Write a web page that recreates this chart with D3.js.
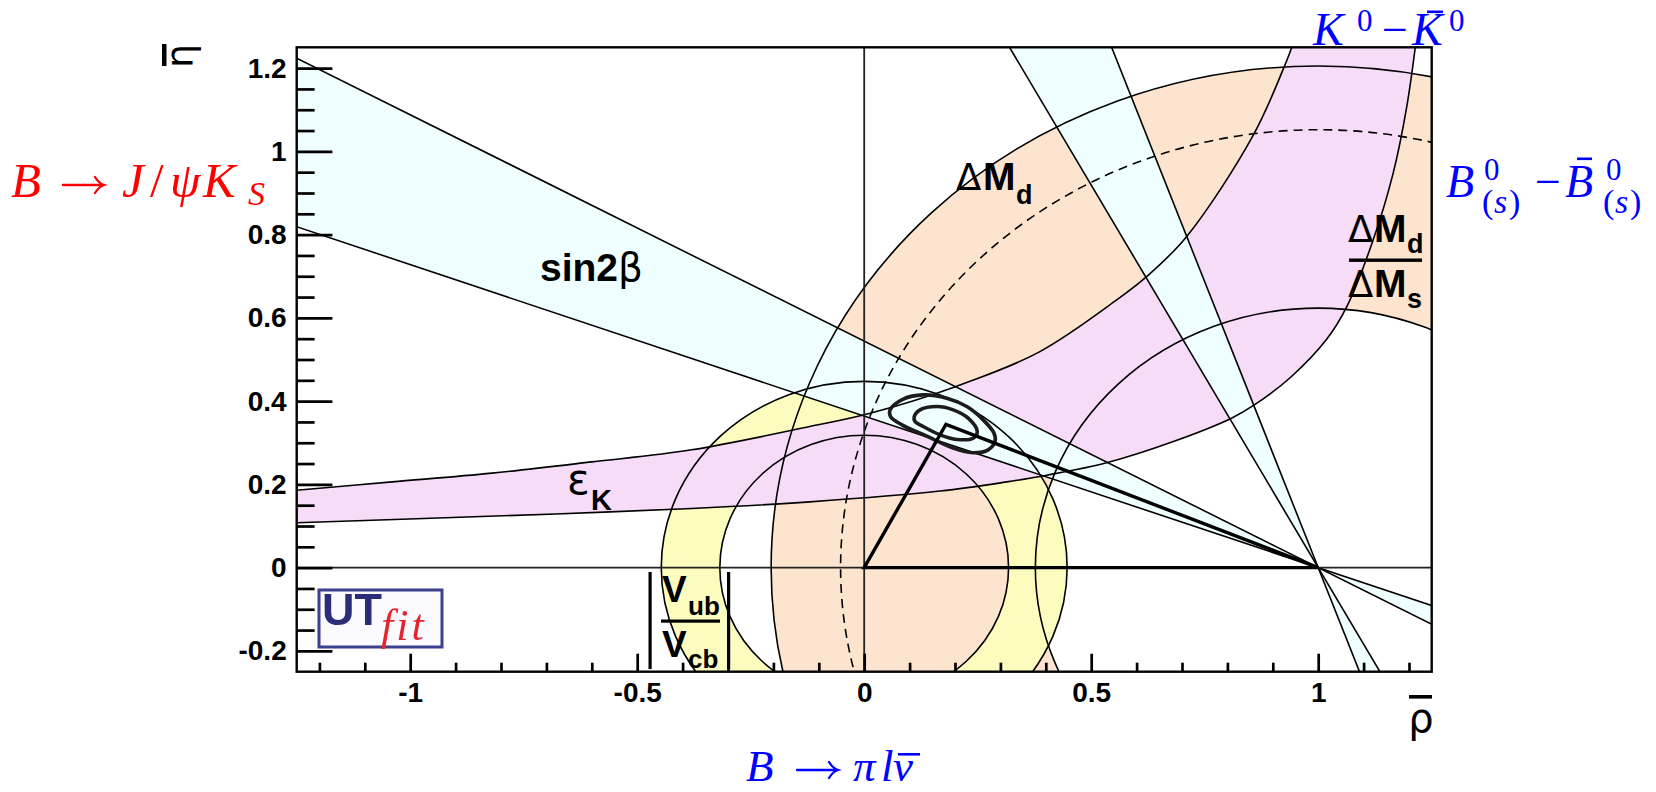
<!DOCTYPE html>
<html>
<head>
<meta charset="utf-8">
<script src="https://cdn.jsdelivr.net/npm/d3@7"></script>
<style>
  html, body { margin: 0; padding: 0; background: #fff; }
  svg { display: block; }
</style>
</head>
<body>
<svg id="chart" width="1656" height="792"></svg>
<script>
// ---- axis ranges and ticks ----
const rhoDomain = [-1.25, 1.25];
const etaDomain = [-0.25, 1.25];
const xMajorTicks = [-1, -0.5, 0, 0.5, 1];
const xTickLabels = ["-1", "-0.5", "0", "0.5", "1"];
const xMinorTicks = [-1.2, -1.1, -0.9, -0.8, -0.7, -0.6, -0.4, -0.3, -0.2, -0.1,
                     0.1, 0.2, 0.3, 0.4, 0.6, 0.7, 0.8, 0.9, 1.1, 1.2];
const yMajorTicks = [-0.2, 0, 0.2, 0.4, 0.6, 0.8, 1, 1.2];
const yTickLabels = ["-0.2", "0", "0.2", "0.4", "0.6", "0.8", "1", "1.2"];
const yMinorTicks = [-0.15, -0.1, -0.05, 0.05, 0.1, 0.15, 0.25, 0.3, 0.35, 0.45, 0.5, 0.55,
                     0.65, 0.7, 0.75, 0.85, 0.9, 0.95, 1.05, 1.1, 1.15];

// ---- constraints in the (rho-bar, eta-bar) plane ----
// sin2beta: tan(beta) of the two band edges, lines through (1,0); the steep band is the second solution
const sin2betaTanBeta = [0.364, 0.544];
// |Vub/Vcb|: ring centred on (0,0)
const vubCentre = [0, 0];
const vubRadii = [0.318, 0.447];
// Delta M_d: ring centred on (1,0) plus its central value (dashed)
const dmdCentre = [1, 0];
const dmdRadii = [0.623, 1.205];
const dmdCentral = 1.052;
// epsilon_K band edges
const epsKUpper = [[-1.25, 0.186], [-1.04, 0.206], [-0.82, 0.227], [-0.60, 0.254], [-0.38, 0.283],
                   [-0.12, 0.339], [0.013, 0.371], [0.204, 0.436], [0.387, 0.519], [0.556, 0.643],
                   [0.622, 0.699], [0.71, 0.795], [0.857, 1.039], [0.931, 1.219], [0.945, 1.26]];
const epsKLower = [[-1.25, 0.108], [-0.97, 0.118], [-0.68, 0.129], [-0.38, 0.142], [-0.12, 0.158],
                   [0.167, 0.184], [0.314, 0.206], [0.402, 0.222], [0.534, 0.252], [0.681, 0.303],
                   [0.809, 0.359], [0.861, 0.392], [0.94, 0.458], [1.019, 0.549], [1.063, 0.627],
                   [1.121, 0.787], [1.165, 0.947], [1.195, 1.107], [1.215, 1.26]];
// fit result: apex and the two probability contours
const apex = [0.18, 0.344];
const contourInner = [[0.110, 0.362], [0.123, 0.379], [0.160, 0.387], [0.196, 0.379], [0.229, 0.359],
                      [0.249, 0.327], [0.240, 0.311], [0.204, 0.308], [0.167, 0.319], [0.130, 0.339],
                      [0.112, 0.351]];
const contourOuter = [[0.057, 0.379], [0.086, 0.405], [0.130, 0.415], [0.182, 0.407], [0.226, 0.387],
                      [0.262, 0.355], [0.286, 0.323], [0.288, 0.303], [0.273, 0.283], [0.240, 0.276],
                      [0.196, 0.287], [0.138, 0.316], [0.083, 0.343], [0.058, 0.363]];

// ---- colours ----
const colDmd = "#fde4cf", colVub = "#fdfcbf", colEps = "#f6dcf7", colBeta = "#efffff";

const svg = d3.select("#chart");
const x = d3.scaleLinear().domain(rhoDomain).range([296.7, 1431.7]);
const y = d3.scaleLinear().domain(etaDomain).range([671.7, 47.3]);
const kx = x(1) - x(0), ky = y(0) - y(1);

svg.append("rect").attr("width", 1656).attr("height", 792).attr("fill", "#fff");

const defs = svg.append("defs");
defs.append("clipPath").attr("id", "plotClip").append("rect")
  .attr("x", x(rhoDomain[0])).attr("y", y(etaDomain[1]))
  .attr("width", x(rhoDomain[1]) - x(rhoDomain[0]))
  .attr("height", y(etaDomain[0]) - y(etaDomain[1]));
defs.append("filter").attr("id", "soft").append("feGaussianBlur").attr("stdDeviation", 0.6);

const plot = svg.append("g").attr("clip-path", "url(#plotClip)");

const lin = d3.line().x(d => x(d[0])).y(d => y(d[1]));
const smooth = d3.line().x(d => x(d[0])).y(d => y(d[1])).curve(d3.curveCatmullRom);
const closedSmooth = d3.line().x(d => x(d[0])).y(d => y(d[1])).curve(d3.curveCatmullRomClosed);

function ellipse(c, r) {
  const cx = x(c[0]), cy = y(c[1]), rx = r * kx, ry = r * ky;
  return `M${cx + rx},${cy}A${rx},${ry} 0 1 0 ${cx - rx},${cy}A${rx},${ry} 0 1 0 ${cx + rx},${cy}Z`;
}
function ring(c, radii) { return ellipse(c, radii[0]) + ellipse(c, radii[1]); }

// straight edges of the sin2beta bands, extended past the frame
function shallowEdge(t) { return [[-1.7, t * 2.7], [1.7, -t * 0.7]]; }
function steepEdge(t) { const s = 1 / t; return [[1 - 1.7 / s, 1.7], [1 + 0.7 / s, -0.7]]; }

// ---- filled regions ----
plot.append("path").attr("d", ring(dmdCentre, dmdRadii)).attr("fill", colDmd).attr("fill-rule", "evenodd");
plot.append("path").attr("d", ring(vubCentre, vubRadii)).attr("fill", colVub).attr("fill-rule", "evenodd");

const epsPath = smooth(epsKUpper) + "L" + smooth(epsKLower.slice().reverse()).slice(1) + "Z";
plot.append("path").attr("d", epsPath).attr("fill", colEps);

const [tLo, tHi] = sin2betaTanBeta;
const sLo = shallowEdge(tLo), sHi = shallowEdge(tHi);
const qLo = steepEdge(tLo), qHi = steepEdge(tHi);
[
  [sLo[0], sHi[0], dmdCentre], [sLo[1], sHi[1], dmdCentre],
  [qLo[0], qHi[0], dmdCentre], [qLo[1], qHi[1], dmdCentre]
].forEach(tri => plot.append("path").attr("d", lin(tri) + "Z").attr("fill", colBeta));

// ---- boundary lines ----
const edges = plot.append("g").attr("fill", "none").attr("stroke", "#000").attr("stroke-width", 1.6);
dmdRadii.forEach(r => edges.append("path").attr("d", ellipse(dmdCentre, r)));
edges.append("path").attr("d", ellipse(dmdCentre, dmdCentral)).attr("stroke-dasharray", "9,6");
vubRadii.forEach(r => edges.append("path").attr("d", ellipse(vubCentre, r)));
edges.append("path").attr("d", smooth(epsKUpper));
edges.append("path").attr("d", smooth(epsKLower));
[sLo, sHi, qLo, qHi].forEach(l => edges.append("path").attr("d", lin(l)));

// reference axes through the origin
plot.append("line").attr("x1", x(0)).attr("x2", x(0)).attr("y1", y(etaDomain[0])).attr("y2", y(etaDomain[1]))
  .attr("stroke", "#222").attr("stroke-width", 1.8);
plot.append("line").attr("x1", x(rhoDomain[0])).attr("x2", x(rhoDomain[1])).attr("y1", y(0)).attr("y2", y(0))
  .attr("stroke", "#222").attr("stroke-width", 1.8);

// fit contours and the unitarity triangle
plot.append("path").attr("d", closedSmooth(contourOuter)).attr("fill", "none").attr("stroke", "#1c1c1c").attr("stroke-width", 3.6);
plot.append("path").attr("d", closedSmooth(contourInner)).attr("fill", "none").attr("stroke", "#1c1c1c").attr("stroke-width", 3.6);
plot.append("path").attr("d", lin([[0, 0], apex, dmdCentre]) + "Z").attr("fill", "none")
  .attr("stroke", "#000").attr("stroke-width", 3.4).attr("stroke-linejoin", "miter");

// ---- frame and axes ----
const tickFont = "'Liberation Sans', Arial, Helvetica, sans-serif";
function styleAxis(g) {
  g.attr("font-family", tickFont).attr("font-size", 28).attr("font-weight", "bold");
  g.select(".domain").remove();
  g.selectAll(".tick line").attr("stroke", "#000").attr("stroke-width", 2.7);
  g.selectAll(".tick text").attr("fill", "#000");
}
svg.append("g").attr("transform", `translate(${x(rhoDomain[0])},0)`)
  .call(d3.axisLeft(y).tickValues(yMinorTicks).tickFormat("").tickSize(-17.9).tickSizeOuter(0)).call(styleAxis);
svg.append("g").attr("transform", `translate(${x(rhoDomain[0])},0)`)
  .call(d3.axisLeft(y).tickValues(yMajorTicks).tickFormat((d, i) => yTickLabels[i]).tickSize(-35.7).tickSizeOuter(0).tickPadding(10))
  .call(styleAxis);
svg.append("g").attr("transform", `translate(0,${y(etaDomain[0])})`)
  .call(d3.axisBottom(x).tickValues(xMinorTicks).tickFormat("").tickSize(-9).tickSizeOuter(0)).call(styleAxis);
svg.append("g").attr("transform", `translate(0,${y(etaDomain[0])})`)
  .call(d3.axisBottom(x).tickValues(xMajorTicks).tickFormat((d, i) => xTickLabels[i]).tickSize(-18).tickSizeOuter(0).tickPadding(10))
  .call(styleAxis);

svg.append("rect").attr("x", x(rhoDomain[0])).attr("y", y(etaDomain[1]))
  .attr("width", x(rhoDomain[1]) - x(rhoDomain[0])).attr("height", y(etaDomain[0]) - y(etaDomain[1]))
  .attr("fill", "none").attr("stroke", "#000").attr("stroke-width", 2.4);

// axis titles: eta-bar (rotated) and rho-bar
const greek = "'DejaVu Sans', 'Liberation Sans', sans-serif";
svg.append("text").attr("transform", "translate(193,56) rotate(-90)").attr("text-anchor", "middle")
  .attr("font-family", greek).attr("font-size", 38).text("η");
svg.append("rect").attr("x", 162).attr("y", 44).attr("width", 4.5).attr("height", 22).attr("fill", "#000");
svg.append("text").attr("x", 1421).attr("y", 732).attr("text-anchor", "middle")
  .attr("font-family", greek).attr("font-size", 40).text("ρ");
svg.append("rect").attr("x", 1409).attr("y", 695).attr("width", 23).attr("height", 3.6).attr("fill", "#000");

// ---- constraint labels ----
const bold = tickFont;
function boldLabel(parts) {
  const t = svg.append("text").attr("font-family", bold).attr("font-weight", "bold").attr("fill", "#000");
  parts.forEach(p => t.append("tspan").attr("x", p.x).attr("y", p.y).attr("font-size", p.size)
    .attr("font-family", p.greek ? greek : bold).attr("font-weight", p.greek ? "normal" : "bold").text(p.s));
}
boldLabel([{ s: "sin2", x: 540, y: 281, size: 39 }, { s: "β", x: 618, y: 281, size: 39, greek: true }]);
boldLabel([{ s: "Δ", x: 956, y: 190, size: 37, greek: true }, { s: "M", x: 983, y: 190, size: 39 },
           { s: "d", x: 1016, y: 204, size: 27 }]);
boldLabel([{ s: "ε", x: 567, y: 494, size: 42, greek: true }, { s: "K", x: 591, y: 510, size: 29 }]);
boldLabel([{ s: "Δ", x: 1348, y: 241.7, size: 37, greek: true }, { s: "M", x: 1374, y: 241.7, size: 39 },
           { s: "d", x: 1407, y: 253.3, size: 27 },
           { s: "Δ", x: 1348, y: 296.7, size: 37, greek: true }, { s: "M", x: 1374, y: 296.7, size: 39 },
           { s: "s", x: 1407, y: 308.3, size: 27 }]);
svg.append("rect").attr("x", 1349).attr("y", 258.5).attr("width", 73).attr("height", 3.4).attr("fill", "#000");

boldLabel([{ s: "V", x: 662, y: 601.7, size: 37 }, { s: "ub", x: 688, y: 615, size: 26 },
           { s: "V", x: 662, y: 656.7, size: 37 }, { s: "cb", x: 688, y: 668, size: 26 }]);
svg.append("rect").attr("x", 661).attr("y", 619.5).attr("width", 59).attr("height", 3.2).attr("fill", "#000");
svg.append("rect").attr("x", 648.5).attr("y", 572).attr("width", 3.2).attr("height", 97).attr("fill", "#000");
svg.append("rect").attr("x", 727).attr("y", 572).attr("width", 3.2).attr("height", 97).attr("fill", "#000");

// ---- measurement labels (math style) ----
const serif = "'Liberation Serif', 'DejaVu Serif', serif";
function mathLabel(colour, parts) {
  const t = svg.append("text").attr("font-family", serif).attr("fill", colour);
  parts.forEach(p => t.append("tspan").attr("x", p.x).attr("y", p.y).attr("font-size", p.size)
    .attr("font-style", p.up ? "normal" : "italic").attr("text-anchor", p.mid ? "middle" : "start").text(p.s));
}
// a long "rightarrow" drawn as a stroke with a curved head
function mathArrow(colour, x1, x2, yAxis) {
  svg.append("path").attr("fill", "none").attr("stroke", colour).attr("stroke-width", 2.3)
    .attr("stroke-linecap", "round")
    .attr("d", `M${x1},${yAxis}H${x2}M${x2 - 9},${yAxis - 8}Q${x2 - 5},${yAxis - 1.5} ${x2},${yAxis}Q${x2 - 5},${yAxis + 1.5} ${x2 - 9},${yAxis + 8}`);
}
mathLabel("#ff0000", [
  { s: "B", x: 11, y: 197, size: 49 },
  { s: "J", x: 122, y: 197, size: 49 }, { s: "/", x: 150, y: 197, size: 49, up: true },
  { s: "ψ", x: 170, y: 197, size: 49 }, { s: "K", x: 203, y: 197, size: 49 },
  { s: "S", x: 248, y: 205, size: 34 }
]);
mathArrow("#ff0000", 63, 104, 185);

mathLabel("#0000ff", [
  { s: "K", x: 1313, y: 45, size: 46 }, { s: "0", x: 1357, y: 31, size: 31, up: true },
  { s: "−", x: 1395, y: 45, size: 46, up: true, mid: true },
  { s: "K", x: 1412, y: 45, size: 46 }, { s: "0", x: 1449, y: 31, size: 31, up: true }
]);
svg.append("rect").attr("x", 1427).attr("y", 10.5).attr("width", 16).attr("height", 2.6).attr("fill", "#0000ff");

mathLabel("#0000ff", [
  { s: "B", x: 1446, y: 197, size: 46 }, { s: "0", x: 1484, y: 180, size: 31, up: true },
  { s: "(", x: 1482, y: 213, size: 34, up: true }, { s: "s", x: 1494, y: 213, size: 34 },
  { s: ")", x: 1509, y: 213, size: 34, up: true },
  { s: "−", x: 1548, y: 197, size: 46, up: true, mid: true },
  { s: "B", x: 1565, y: 197, size: 46 }, { s: "0", x: 1606, y: 180, size: 31, up: true },
  { s: "(", x: 1603, y: 213, size: 34, up: true }, { s: "s", x: 1615, y: 213, size: 34 },
  { s: ")", x: 1630, y: 213, size: 34, up: true }
]);
svg.append("rect").attr("x", 1577).attr("y", 157.5).attr("width", 15).attr("height", 2.6).attr("fill", "#0000ff");

mathLabel("#0000ff", [
  { s: "B", x: 746, y: 781, size: 45 },
  { s: "π", x: 853, y: 781, size: 45 }, { s: "l", x: 881, y: 781, size: 45 },
  { s: "ν", x: 893, y: 781, size: 45 }
]);
mathArrow("#0000ff", 797, 838, 770);
svg.append("rect").attr("x", 898).attr("y", 753).attr("width", 22).attr("height", 2.6).attr("fill", "#0000ff");

// ---- UTfit logo ----
const logo = svg.append("g").attr("filter", "url(#soft)");
logo.append("rect").attr("x", 319).attr("y", 590).attr("width", 123).attr("height", 57)
  .attr("fill", "#fbfaff").attr("stroke", "#3b3f8f").attr("stroke-width", 3);
logo.append("text").attr("x", 322).attr("y", 625).attr("font-family", bold).attr("font-weight", "bold")
  .attr("font-size", 45).attr("fill", "#2c2f78").text("UT");
logo.append("text").attr("x", 381).attr("y", 640).attr("font-family", serif).attr("font-style", "italic")
  .attr("font-size", 44).attr("letter-spacing", 3).attr("fill", "#e3262e").text("fit");
</script>
</body>
</html>
